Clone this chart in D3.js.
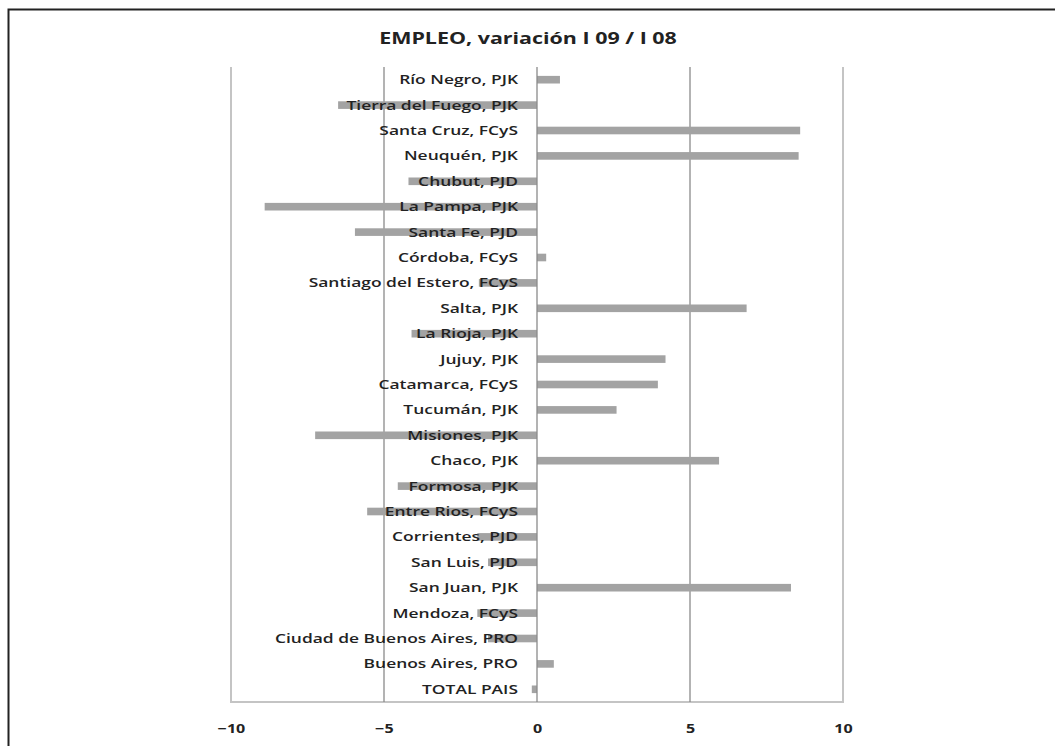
<!DOCTYPE html>
<html>
<head>
<meta charset="utf-8">
<script src="https://cdn.jsdelivr.net/npm/d3@7"></script>
<style>
  html, body { margin: 0; padding: 0; background: #fff; }
  svg { display: block; }
  text { font-family: "Open Sans", "DejaVu Sans", sans-serif; }
</style>
</head>
<body>
<svg id="chart" width="1055" height="746"></svg>
<script>
// Provinces (top to bottom) and employment change, Q1 2009 vs Q1 2008 (%)
const categories = [
  "Río Negro, PJK", "Tierra del Fuego, PJK", "Santa Cruz, FCyS", "Neuquén, PJK",
  "Chubut, PJD", "La Pampa, PJK", "Santa Fe, PJD", "Córdoba, FCyS",
  "Santiago del Estero, FCyS", "Salta, PJK", "La Rioja, PJK", "Jujuy, PJK",
  "Catamarca, FCyS", "Tucumán, PJK", "Misiones, PJK", "Chaco, PJK",
  "Formosa, PJK", "Entre Rios, FCyS", "Corrientes, PJD", "San Luis, PJD",
  "San Juan, PJK", "Mendoza, FCyS", "Ciudad de Buenos Aires, PRO",
  "Buenos Aires, PRO", "TOTAL PAIS"
];
const values = [
  0.75, -6.5, 8.6, 8.55,
  -4.2, -8.9, -5.95, 0.3,
  -1.9, 6.85, -4.1, 4.2,
  3.95, 2.6, -7.25, 5.95,
  -4.55, -5.55, -1.95, -1.6,
  8.3, -1.95, -1.6,
  0.55, -0.17
];
const xTicks = [-10, -5, 0, 5, 10];
const title = "EMPLEO, variación I 09 / I 08";

// the typeface is drawn horizontally widened
const SX = 1.34;

const svg = d3.select("#chart");

// outer frame
svg.append("rect")
  .attr("x", 8.5).attr("y", 9.5)
  .attr("width", 1100).attr("height", 800)
  .attr("fill", "none").attr("stroke", "#222").attr("stroke-width", 2);

const plot = { left: 231, right: 843, top: 67, bottom: 702 };

const x = d3.scaleLinear().domain([-10, 10]).range([plot.left, plot.right]);
const y = d3.scaleBand().domain(categories).range([plot.top, plot.bottom]).paddingInner(0.7).paddingOuter(0.35);

// plot area border (left, right, bottom)
svg.append("path")
  .attr("d", `M${plot.left},${plot.top}V${plot.bottom}H${plot.right}V${plot.top}`)
  .attr("fill", "none").attr("stroke", "#c4c4c4").attr("stroke-width", 2);

// vertical gridlines at -5 and 5
svg.append("g").selectAll("line")
  .data(xTicks.filter(t => t === -5 || t === 5))
  .join("line")
  .attr("x1", d => x(d)).attr("x2", d => x(d))
  .attr("y1", plot.top).attr("y2", plot.bottom)
  .attr("stroke", "#8a8a8a").attr("stroke-width", 1.3);

// bars
svg.append("g").selectAll("rect")
  .data(values)
  .join("rect")
  .attr("x", d => x(Math.min(0, d)))
  .attr("width", d => Math.abs(x(d) - x(0)))
  .attr("y", (d, i) => y(categories[i]))
  .attr("height", y.bandwidth())
  .attr("fill", "#a3a3a3");

// zero axis line
svg.append("line")
  .attr("x1", x(0)).attr("x2", x(0))
  .attr("y1", plot.top).attr("y2", plot.bottom)
  .attr("stroke", "#8a8a8a").attr("stroke-width", 1.3);

// category labels, right-aligned just left of the zero line
svg.append("g").selectAll("text")
  .data(categories)
  .join("text")
  .attr("transform", d => `translate(${x(0) - 19},${y(d) + y.bandwidth() / 2}) scale(${SX},1)`)
  .attr("dy", "0.35em")
  .attr("text-anchor", "end")
  .attr("font-size", 13)
  .attr("font-weight", 600)
  .attr("fill", "#222")
  .text(d => d);

// x axis tick labels
const xAxis = d3.axisBottom(x).tickValues(xTicks).tickSize(0).tickPadding(0);
const gx = svg.append("g").attr("transform", `translate(0,${plot.bottom + 27})`).call(xAxis);
gx.select(".domain").remove();
gx.selectAll("text")
  .attr("dy", "0.35em")
  .attr("transform", `scale(${SX},1)`)
  .attr("font-size", 12)
  .attr("font-weight", 700)
  .attr("fill", "#222")
  .style("font-family", "'Open Sans', sans-serif");

// title
svg.append("text")
  .attr("transform", `translate(528,38) scale(${SX},1)`)
  .attr("dy", "0.35em")
  .attr("text-anchor", "middle")
  .attr("font-size", 16)
  .attr("font-weight", 700)
  .attr("fill", "#222")
  .text(title);
</script>
</body>
</html>
